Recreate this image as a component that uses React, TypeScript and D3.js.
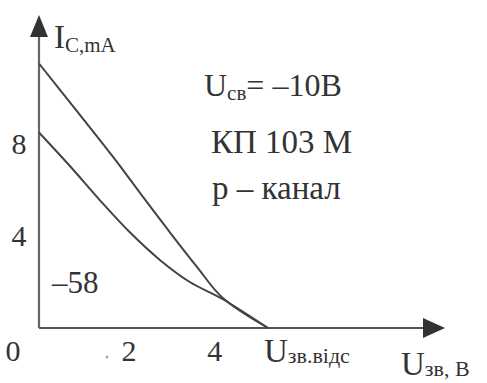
import React from "react";
import * as d3 from "d3";

// Data
const uUpper = [0, 0.79, 1.72, 2.4, 3.05, 3.68, 4.28, 5.33];
const iUpper = [11.5, 9.65, 7.45, 5.75, 4.15, 2.65, 1.3, 0];
const uLower = [0, 0.74, 1.42, 2.12, 2.82, 3.51, 4.28, 5.33];
const iLower = [8.5, 7.0, 5.55, 4.15, 2.95, 2.0, 1.25, 0];
const xTicks = [2, 4];
const yTicks = [4, 8];
const cutoffU = 5.33;

const W = 487;
const H = 383;
const FONT = "Liberation Serif, DejaVu Serif, serif";
const INK = "#333";

const T = (props: any) => (
  <text {...props} style={{ fontFamily: FONT }} fill={INK} />
);

export default function App() {
  const x = d3.scaleLinear().domain([0, cutoffU]).range([39, 268]);
  const y = d3.scaleLinear().domain([0, 8]).range([328, 144]);
  const line = d3
    .line<[number, number]>()
    .x((d) => x(d[0]))
    .y((d) => y(d[1]))
    .curve(d3.curveCatmullRom.alpha(0.5));
  const upper = uUpper.map((u, k) => [u, iUpper[k]] as [number, number]);
  const lower = uLower.map((u, k) => [u, iLower[k]] as [number, number]);
  const x0 = x(0);
  const y0 = y(0);
  const xEnd = 445;
  const yEnd = 15;

  return (
    <svg
      width={W}
      height={H}
      style={{ position: "absolute", left: 0, top: 0, background: "#fff" }}
    >
      <rect width={W} height={H} fill="#fff" />
      {/* axes */}
      <line x1={x0} y1={y0} x2={x0} y2={yEnd + 12} stroke="#666" strokeWidth={2.2} />
      <line x1={x0} y1={y0} x2={xEnd - 12} y2={y0} stroke="#555" strokeWidth={2.2} />
      <path d={`M${x0},${yEnd} L${x0 - 9},${yEnd + 22} L${x0 + 9},${yEnd + 22} Z`} fill="#333" />
      <path d={`M${xEnd},${y0} L${xEnd - 22},${y0 - 10} L${xEnd - 22},${y0 + 10} Z`} fill="#333" />

      {/* curves */}
      <path d={line(upper) || ""} fill="none" stroke="#444" strokeWidth={2} />
      <path d={line(lower) || ""} fill="none" stroke="#444" strokeWidth={2} />

      {/* tick labels */}
      {yTicks.map((t) => (
        <T key={"y" + t} x={19} y={y(t) + 10} fontSize={30} textAnchor="middle">
          {t}
        </T>
      ))}
      {xTicks.map((t) => (
        <T key={"x" + t} x={x(t) + 4} y={361} fontSize={30} textAnchor="middle">
          {t}
        </T>
      ))}
      <T x={13} y={361} fontSize={30} textAnchor="middle">0</T>
      <circle cx={107} cy={357} r={1.5} fill="#aaa" />

      {/* axis titles */}
      <T x={54} y={48} fontSize={33}>
        I<tspan fontSize={21} dy={4}>C,mA</tspan>
      </T>
      <T x={264} y={362} fontSize={33}>
        U<tspan fontSize={22} dy={1}>зв.відс</tspan>
      </T>
      <T x={401} y={375} fontSize={33}>
        U<tspan fontSize={22} dy={1}>зв, В</tspan>
      </T>

      {/* annotations */}
      <T x={204} y={96} fontSize={32}>
        U<tspan fontSize={21} dy={4}>св</tspan>
        <tspan dy={-4}>= –10В</tspan>
      </T>
      <T x={211} y={153} fontSize={33}>КП 103 М</T>
      <T x={212} y={199} fontSize={33}>p – канал</T>
      <T x={52} y={293} fontSize={31}>–58</T>
    </svg>
  );
}
